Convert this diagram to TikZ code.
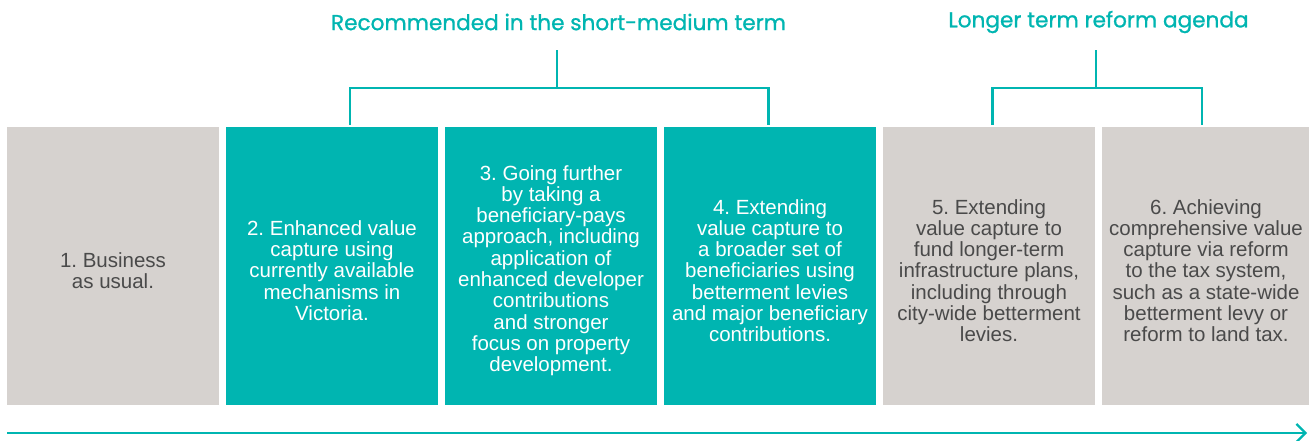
\documentclass[tikz,border=0pt]{standalone}
\usepackage{fontspec}
\setmainfont{Liberation Sans}
\newfontfamily\headfont[FakeBold=1]{Poppins}
\frenchspacing
\usetikzlibrary{arrows.meta, calc, positioning}
\definecolor{teal}{HTML}{00B5B1}
\definecolor{stone}{HTML}{D6D2CF}
\definecolor{inkgray}{HTML}{4A4A4A}
\newcommand{\lowered}{\rule{0pt}{24pt}}
\tikzset{
	stage/.style={
		rectangle, inner sep=0pt,
		minimum width=212pt, minimum height=278pt,
		align=center,
		font=\fontsize{20.5}{21.3}\selectfont
	},
	current/.style={stage, fill=stone, text=inkgray},
	recommended/.style={stage, fill=teal, text=white},
	longer/.style={stage, fill=stone, text=inkgray},
	heading/.style={text=teal, font=\headfont\fontsize{21.6}{24}\selectfont, inner sep=0pt},
	bracket/.style={draw=teal, line width=2.8pt},
	timeline/.style={draw=teal, line width=2.6pt, -{Straight Barb[length=9pt,width=18pt,line width=2.2pt]}}
}

\begin{document}
\begin{tikzpicture}[x=1pt,y=-1pt,node distance=6.6pt]
	\useasboundingbox (0,0) rectangle (1309,440);
	\node[current]		(b1)	at (113,266)	{\lowered1. Business\\as usual.};
	\node[recommended]	(b2)	[right=of b1]	{\lowered2. Enhanced value\\capture using\\currently available\\mechanisms in\\Victoria.};
	\node[recommended]	(b3)	[right=of b2]	{\lowered3. Going further\\by taking a\\beneficiary-pays\\approach, including\\application of\\enhanced developer\\contributions\\and stronger\\focus on property\\development.};
	\node[recommended]	(b4)	[right=of b3]	{\lowered4. Extending\\value capture to\\a broader set of\\beneficiaries using\\betterment levies\\and major beneficiary\\contributions.};
	\node[longer]		(b5)	[right=of b4]	{\lowered5. Extending\\value capture to\\fund longer-term\\infrastructure plans,\\including through\\city-wide betterment\\levies.};
	\node[longer, minimum width=208pt]	(b6)	[right=of b5]	{\lowered6. Achieving\\comprehensive value\\capture via reform\\to the tax system,\\such as a state-wide\\betterment levy or\\reform to land tax.};
	\node[heading]	(shortterm)	at (558.5,22)	{Recommended in the short-medium term};
	\node[heading]	(longterm)	at (1098.5,22)	{Longer term reform agenda};
	\coordinate	(short top)	at (557,50);
	\coordinate	(short mid)	at (557,88);
	\coordinate	(long top)	at (1096,50);
	\coordinate	(long mid)	at (1096,88);
	\draw[bracket]	(short top)--(short mid);
	\draw[bracket]	([xshift=18pt,yshift=2pt]b2.north) |- (short mid) -| ([xshift=-1.4pt,yshift=2pt]b4.north);
	\draw[bracket]	(long top)--(long mid);
	\draw[bracket]	([xshift=3.8pt,yshift=2pt]b5.north) |- (long mid) -| ([xshift=-4pt,yshift=2pt]b6.north);
	\coordinate	(start)	at (7,433);
	\coordinate	(finish)	at (1307,433);
	\draw[timeline]	(start)--(finish);
\end{tikzpicture}
\end{document}
